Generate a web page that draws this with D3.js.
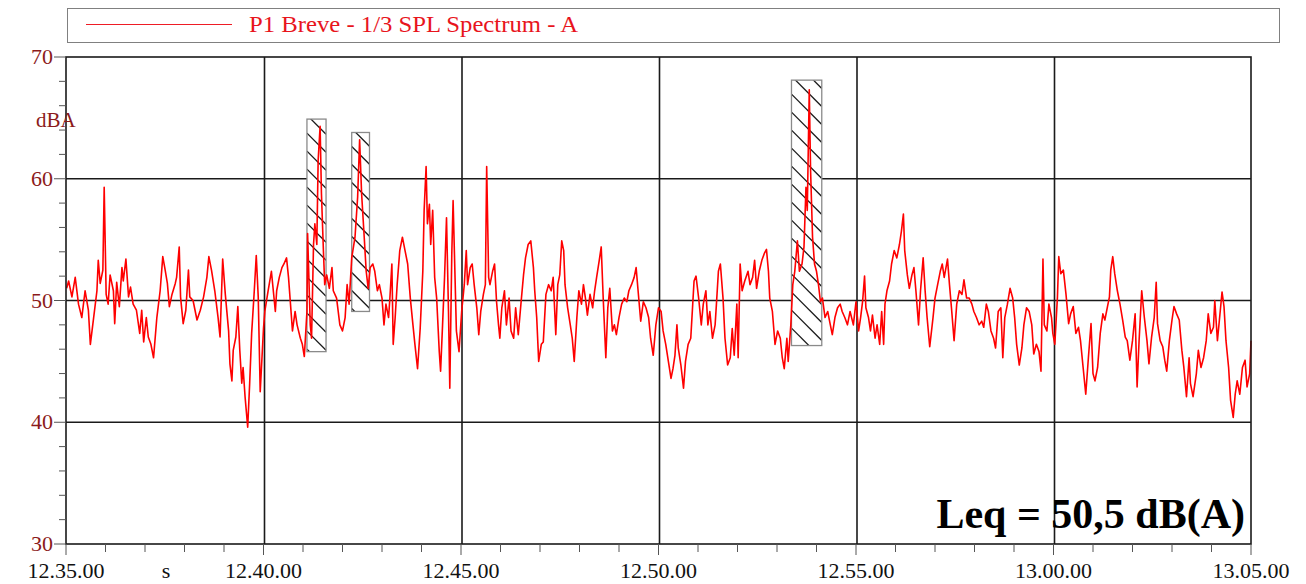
<!DOCTYPE html>
<html lang="en">
<head>
<meta charset="UTF-8">
<title>P1 Breve - 1/3 SPL Spectrum - A</title>
<script src="https://d3js.org/d3.v7.min.js"></script>
<style>
  body { margin: 0; background: #fff; }
  svg { display: block; font-family: "Liberation Serif", "Times New Roman", serif; }
</style>
</head>
<body>
<div id="chart"></div>
<script>
// seconds after 12.35.00
const times = [
  1,4,9,14,19,24,29,34,37,42,47,49,52,56,58,61,64,67,72,74,77,81,85,87,91,95,98,102,107,112,115,118,122,125,129,133,138,143,147,150,154,157,161,166,168,172,174,178,182,186,188,193,199,204,209,214,217,221,226,231,234,238,242,247,249,252,254,258,261,264,267,269,272,276,279,282,286,289,292,295,300,
  302,307,312,318,320,324,328,331,335,338,341,344,348,351,356,359,362,366,367,371,373,376,378,381,383,386,388,391,393,396,400,404,406,411,416,420,424,427,430,434,439,443,446,449,453,456,459,462,466,469,473,476,480,483,486,490,492,495,497,500,503,507,511,515,519,523,527,530,534,538,542,544,547,549,552,554,557,560,563,567,569,572,575,578,581,583,586,588,
  593,597,601,605,608,610,614,617,620,624,627,630,634,637,639,642,644,648,651,654,657,659,662,666,669,673,676,680,683,687,691,695,698,702,706,710,712,715,718,722,725,729,733,737,740,744,747,750,753,756,758,762,766,769,772,776,779,783,786,789,792,796,800,803,806,810,813,816,820,823,826,830,833,836,840,844,848,852,855,859,863,866,869,873,877,881,885,888,892,896,900,
  904,907,911,915,919,922,925,928,930,934,938,941,945,949,952,954,957,961,965,968,972,975,978,982,986,988,991,994,998,1001,1005,1009,1012,1015,1019,1021,1024,1027,1031,1036,1039,1043,1046,1049,1053,1057,1061,1064,1067,1069,1073,1077,1081,1085,1088,1091,1095,1097,1101,1104,1107,1111,1114,1118,1121,1124,1126,1129,1131,1134,1137,1140,1143,1146,1149,1153,1157,1161,1164,1168,1172,1176,1179,1183,1187,1191,
  1196,1200,1204,1207,1210,1213,1215,1219,1222,1225,1229,1232,1236,1239,1242,1244,1247,1251,1254,1258,1262,1266,1269,1272,1274,1278,1281,1285,1288,1291,1295,1298,1302,1305,1308,1312,1317,1320,1324,1328,1331,1334,1339,1342,1345,1349,1353,1357,1361,1364,1368,1372,1376,1379,1383,1387,1391,1394,1398,1401,1405,1409,1412,1416,1420,1423,1426,1430,1434,1438,1441,1444,1448,1452,1455,1459,1463,1467,1470,1474,1478,1481,1484,1486,1490,1493,1497,
  1499,1502,1506,1508,1511,1515,1519,1523,1526,1530,1534,1538,1541,1545,1549,1553,1557,1560,1563,1567,1571,1575,1578,1582,1585,1587,1590,1593,1597,1601,1605,1609,1612,1616,1620,1624,1627,1630,1634,1638,1642,1645,1649,1653,1656,1658,1662,1666,1669,1672,1676,1680,1683,1687,1691,1695,1698,1702,1706,1708,1712,1717,1720,1724,1728,1732,1735,1739,1743,1745,1749,1752,1756,1759,1762,1766,1769,1773,1776,1779,1783,1787,1791,1794,1798,1800
];

// dB(A)
const levels = [
  51.0,51.6,50.3,51.9,49.7,48.6,50.8,49.2,46.4,48.6,50.8,53.3,51.4,52.5,59.3,50.5,49.7,52.1,50.8,48.1,51.5,49.5,52.7,51.6,53.4,50.3,51.1,49.7,49.2,47.3,49.2,46.6,48.6,47.0,46.4,45.3,48.6,50.8,53.6,52.7,51.4,49.5,50.5,51.4,51.9,54.4,50.3,48.1,49.2,52.5,50.3,50.0,48.4,49.2,50.3,51.9,53.6,52.5,50.8,48.6,47.0,53.4,50.5,47.5,44.8,43.4,45.9,47.0,49.5,45.9,43.2,44.5,42.1,39.6,43.2,47.3,50.8,53.7,50.3,42.5,47.7,
  49.1,50.8,52.4,49.1,50.8,51.9,52.7,53.0,53.5,51.9,49.7,47.5,49.1,48.0,46.9,46.4,45.4,49.1,55.5,48.0,46.9,54.6,56.3,54.6,61.5,64.3,58.8,54.1,51.3,52.1,51.0,52.7,50.8,50.2,48.0,47.5,48.6,51.3,49.7,53.5,55.2,58.5,63.2,58.8,55.2,52.4,51.0,52.7,53.0,52.4,50.8,51.3,50.2,48.0,49.7,48.6,50.2,53.0,46.4,48.6,51.3,54.1,55.2,54.1,53.0,50.2,48.0,46.4,44.4,47.7,52.4,57.4,61.0,56.3,57.9,54.6,57.4,51.9,50.2,45.8,44.2,48.0,51.9,56.8,49.1,42.8,53.8,58.2,
  47.5,45.8,49.1,51.3,54.1,51.3,52.7,53.0,51.3,49.4,47.2,49.1,50.5,51.3,61.0,51.9,51.3,52.4,53.0,49.9,48.0,46.9,49.4,50.8,48.0,50.2,47.5,46.9,49.4,47.2,49.7,52.1,53.5,54.6,54.9,52.7,50.8,48.6,45.0,46.4,46.6,50.5,51.3,50.8,51.9,47.2,51.3,52.1,54.9,54.1,51.3,49.4,48.0,46.9,45.0,48.6,50.8,49.7,51.3,50.2,48.8,50.5,49.4,50.8,51.9,53.3,54.4,50.2,45.3,49.4,51.0,47.5,48.0,47.2,48.6,49.7,50.2,49.9,50.8,51.3,51.9,52.7,50.8,48.3,49.9,49.4,48.6,46.9,45.5,48.0,49.4,
  49.1,47.5,46.4,45.0,43.6,44.4,45.5,48.0,46.1,44.7,42.8,45.0,46.4,46.9,49.7,51.6,52.0,50.2,48.0,49.7,50.8,48.0,49.1,46.9,48.0,49.7,52.4,53.0,50.2,46.9,44.7,45.3,47.7,45.5,49.7,45.3,53.0,50.8,51.6,52.4,51.3,51.9,53.3,51.0,52.4,53.3,53.9,54.2,52.4,50.2,49.1,46.4,47.5,46.9,45.3,44.4,46.9,45.0,48.0,51.3,52.4,54.9,52.4,53.0,54.4,59.3,57.4,67.3,60.7,55.2,53.0,52.4,51.3,49.9,50.2,48.6,49.1,48.0,47.2,48.6,49.4,49.7,49.1,48.6,48.0,49.1,
  48.0,49.9,47.5,48.6,49.9,52.0,49.4,48.6,47.5,48.8,46.9,48.0,46.4,49.1,46.4,49.7,50.8,51.6,53.0,54.1,53.5,54.6,55.7,57.1,54.1,52.1,51.0,52.1,52.7,50.8,48.0,50.8,53.5,50.8,48.6,46.2,48.6,50.2,51.3,52.4,53.0,51.9,53.4,51.3,49.4,46.7,49.7,50.8,50.5,51.7,50.2,50.2,49.7,49.1,48.6,48.0,48.3,47.8,49.7,49.1,47.5,46.9,46.1,49.1,49.4,45.3,48.6,49.7,51.0,50.2,48.6,46.4,44.7,46.1,48.0,49.4,49.1,48.0,45.6,46.4,45.8,44.2,53.4,48.0,47.5,49.7,48.6,
  47.3,46.4,50.3,53.6,52.2,52.5,50.5,48.1,48.9,49.5,47.3,47.8,46.7,44.5,42.3,45.3,48.1,44.0,43.4,44.5,47.3,48.9,48.4,49.5,50.3,52.5,53.6,52.2,50.8,49.7,48.4,47.0,46.7,45.1,46.7,48.9,42.9,46.7,50.8,48.6,46.7,44.8,47.0,48.6,51.5,48.1,46.7,46.2,45.1,44.2,46.7,48.4,49.5,48.9,48.4,45.9,44.5,42.1,45.3,43.2,42.1,44.0,45.9,44.5,45.3,46.7,48.9,47.3,47.8,50.0,46.7,48.4,50.7,49.5,46.7,44.5,41.8,40.4,42.3,43.4,42.3,44.5,45.1,42.9,44.0,46.7
];

// hatched (excluded) intervals: start s, end s, low dB, high dB
const boxStart = [366, 434, 1102];
const boxEnd = [395, 461, 1148];
const boxLow = [45.8, 49.1, 46.3];
const boxHigh = [64.9, 63.8, 68.1];

const xTicks = [0, 300, 600, 900, 1200, 1500, 1800];
const xTickLabels = ["12.35.00", "12.40.00", "12.45.00", "12.50.00", "12.55.00", "13.00.00", "13.05.00"];
const yTicks = [30, 40, 50, 60, 70];

const seriesName = "P1 Breve - 1/3 SPL Spectrum - A";
const leqText = "Leq = 50,5 dB(A)";

const W = 1306, H = 584;
const margin = { left: 66, right: 55, top: 57, bottom: 40 };

const svg = d3.select("#chart").append("svg")
  .attr("width", W)
  .attr("height", H);

svg.append("rect").attr("width", W).attr("height", H).attr("fill", "#fff");

const x = d3.scaleLinear().domain([0, 1800]).range([margin.left, W - margin.right]);
const y = d3.scaleLinear().domain([30, 70]).range([H - margin.bottom, margin.top]);

const data = times.map((t, i) => ({ t: t, v: levels[i] }));

// legend
svg.append("rect")
  .attr("x", 67.5).attr("y", 8.5)
  .attr("width", 1212).attr("height", 34)
  .attr("fill", "none").attr("stroke", "#808080").attr("stroke-width", 1);
svg.append("line")
  .attr("x1", 86).attr("x2", 232).attr("y1", 24.5).attr("y2", 24.5)
  .attr("stroke", "#ee1c25").attr("stroke-width", 1.2);
svg.append("text")
  .attr("x", 249).attr("y", 32)
  .attr("font-size", 24).attr("fill", "#e8141c")
  .attr("textLength", 329).attr("lengthAdjust", "spacingAndGlyphs")
  .text(seriesName);

// grid
const grid = svg.append("g").attr("stroke", "#1a1a1a").attr("stroke-width", 1.6);
grid.selectAll(".gy").data([40, 50, 60]).enter().append("line")
  .attr("x1", x(0)).attr("x2", x(1800))
  .attr("y1", d => y(d)).attr("y2", d => y(d));
grid.selectAll(".gx").data(xTicks.slice(1, -1)).enter().append("line")
  .attr("y1", y(30)).attr("y2", y(70))
  .attr("x1", d => x(d) + 1).attr("x2", d => x(d) + 1);

// hatched boxes
const defs = svg.append("defs");
const boxes = svg.append("g");
boxStart.forEach((s, i) => {
  const bx = x(s), bw = x(boxEnd[i]) - x(s);
  const by = y(boxHigh[i]), bh = y(boxLow[i]) - y(boxHigh[i]);
  defs.append("clipPath").attr("id", "bc" + i)
    .append("rect").attr("x", bx).attr("y", by).attr("width", bw).attr("height", bh);
  boxes.append("rect")
    .attr("x", bx).attr("y", by).attr("width", bw).attr("height", bh)
    .attr("fill", "#fff");
  const hg = boxes.append("g").attr("clip-path", "url(#bc" + i + ")");
  for (let k = -Math.ceil(bw / 18) - 1; k * 18 < bh + 18; k++) {
    hg.append("line")
      .attr("x1", bx).attr("y1", by + k * 18 - 4)
      .attr("x2", bx + bw).attr("y2", by + k * 18 - 4 + bw)
      .attr("stroke", "#1a1a1a").attr("stroke-width", 1.3);
  }
  boxes.append("rect")
    .attr("x", bx).attr("y", by).attr("width", bw).attr("height", bh)
    .attr("fill", "none").attr("stroke", "#8a8a8a").attr("stroke-width", 1.3);
});

// trace
const line = d3.line().x(d => x(d.t)).y(d => y(d.v));
svg.append("path")
  .datum(data)
  .attr("fill", "none")
  .attr("stroke", "#ff0000")
  .attr("stroke-width", 1.6)
  .attr("stroke-linejoin", "round")
  .attr("d", line);

// frame
svg.append("rect")
  .attr("x", x(0)).attr("y", y(70))
  .attr("width", x(1800) - x(0)).attr("height", y(30) - y(70))
  .attr("fill", "none").attr("stroke", "#1a1a1a").attr("stroke-width", 1.6);

// y axis
const yMinor = d3.range(30, 70.1, 2);
svg.append("g").selectAll("line").data(yMinor).enter().append("line")
  .attr("x1", d => yTicks.includes(d) ? x(0) - 12 : x(0) - 7)
  .attr("x2", x(0))
  .attr("y1", d => y(d)).attr("y2", d => y(d))
  .attr("stroke", "#555").attr("stroke-width", 1);
svg.append("g").selectAll("text").data(yTicks).enter().append("text")
  .attr("x", x(0) - 13).attr("y", d => y(d) + 7)
  .attr("text-anchor", "end")
  .attr("font-size", 22).attr("fill", "#8b1a1a")
  .text(d => d);
svg.append("text")
  .attr("x", 36).attr("y", 127)
  .attr("font-size", 21).attr("fill", "#8b1a1a")
  .text("dBA");

// x axis
const xMinor = d3.range(0, 1801, 60);
svg.append("g").selectAll("line").data(xMinor).enter().append("line")
  .attr("x1", d => x(d)).attr("x2", d => x(d))
  .attr("y1", y(30))
  .attr("y2", d => xTicks.includes(d) ? y(30) + 11 : y(30) + 8)
  .attr("stroke", "#555").attr("stroke-width", 1);
svg.append("g").selectAll("text").data(xTicks).enter().append("text")
  .attr("x", d => x(d)).attr("y", 578)
  .attr("text-anchor", "middle")
  .attr("font-size", 22).attr("fill", "#111")
  .text((d, i) => xTickLabels[i]);
svg.append("text")
  .attr("x", 166).attr("y", 578)
  .attr("text-anchor", "middle")
  .attr("font-size", 22).attr("fill", "#111")
  .text("s");

// Leq
svg.append("text")
  .attr("x", 1245).attr("y", 528)
  .attr("text-anchor", "end")
  .attr("font-size", 42).attr("font-weight", "bold").attr("fill", "#000")
  .text(leqText);
</script>
</body>
</html>
